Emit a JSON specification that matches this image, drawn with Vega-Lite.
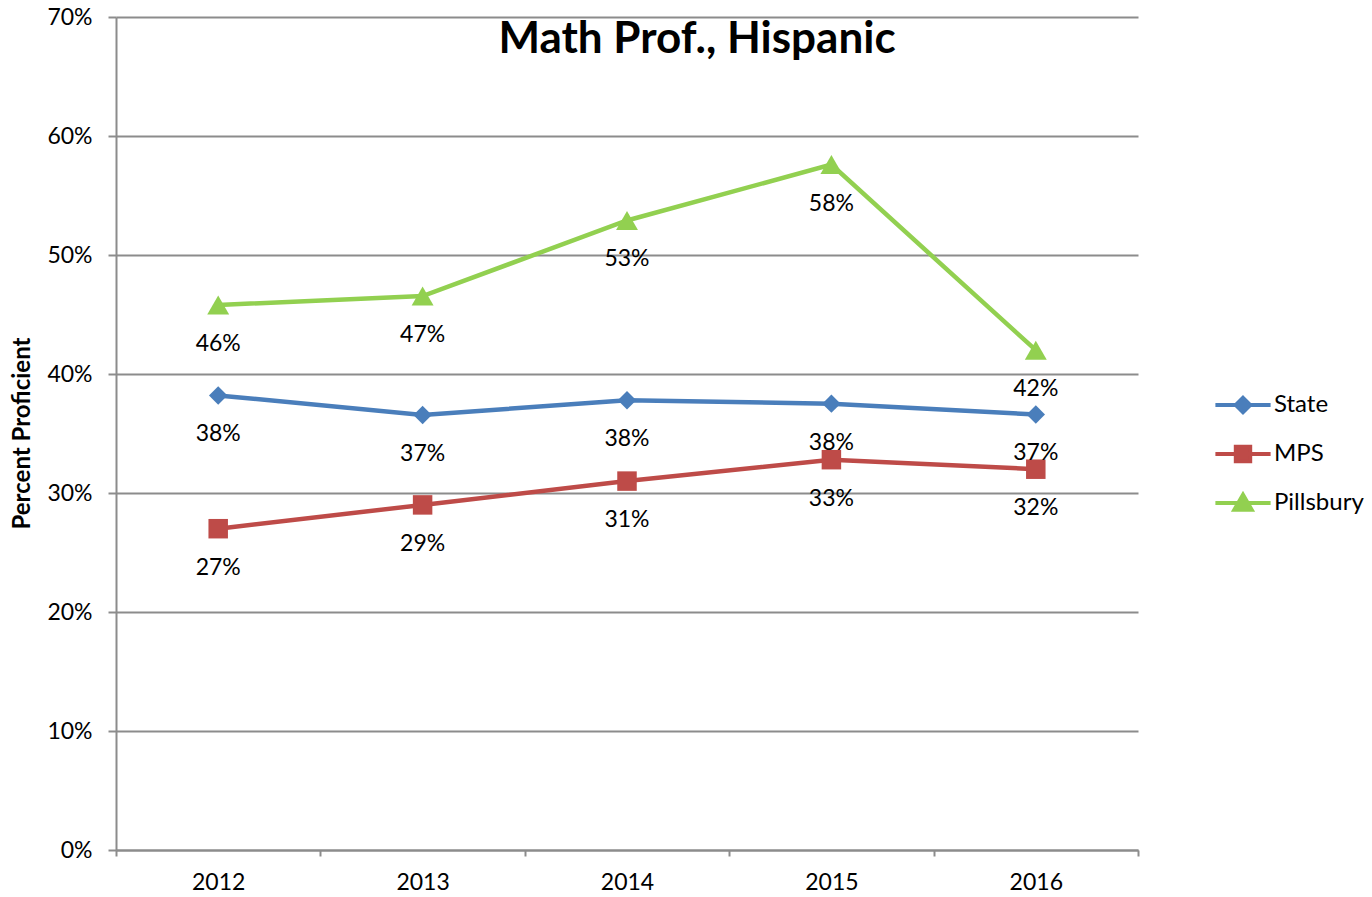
{
  "$schema": "https://vega.github.io/schema/vega-lite/v6.json",
  "autosize": {"type": "none"},
  "width": 1022,
  "height": 833,
  "padding": {"left": 116, "top": 17, "right": 234, "bottom": 47},
  "background": "white",
  "config": {
    "view": {"stroke": null},
    "font": "Lato",
    "axis": {"labelFont": "Lato", "titleFont": "Lato", "labelColor": "#000000", "titleColor": "#000000"}
  },
  "title": {
    "text": "Math Prof., Hispanic",
    "font": "Lato",
    "fontSize": 44,
    "fontWeight": "bold",
    "color": "#000000",
    "anchor": "middle",
    "frame": "group",
    "baseline": "alphabetic",
    "offset": -38,
    "dy": 53,
    "dx": 70
  },
  "data": {
    "values": [
      {"year": "2012", "series": "State", "value": 0.382},
      {"year": "2013", "series": "State", "value": 0.3655},
      {"year": "2014", "series": "State", "value": 0.378},
      {"year": "2015", "series": "State", "value": 0.3751},
      {"year": "2016", "series": "State", "value": 0.366},
      {"year": "2012", "series": "MPS", "value": 0.270},
      {"year": "2013", "series": "MPS", "value": 0.290},
      {"year": "2014", "series": "MPS", "value": 0.310},
      {"year": "2015", "series": "MPS", "value": 0.328},
      {"year": "2016", "series": "MPS", "value": 0.320},
      {"year": "2012", "series": "Pillsbury", "value": 0.458},
      {"year": "2013", "series": "Pillsbury", "value": 0.4655},
      {"year": "2014", "series": "Pillsbury", "value": 0.529},
      {"year": "2015", "series": "Pillsbury", "value": 0.576},
      {"year": "2016", "series": "Pillsbury", "value": 0.420}
    ]
  },
  "encoding": {
    "x": {
      "field": "year",
      "type": "ordinal",
      "scale": {"type": "band", "paddingInner": 0, "paddingOuter": 0},
      "axis": {
        "title": null,
        "labelAngle": 0,
        "labelFontSize": 23,
        "labelPadding": 15,
        "tickBand": "extent",
        "tickSize": 6,
        "tickColor": "#8c8c8c",
        "tickWidth": 2,
        "domainColor": "#8c8c8c",
        "domainWidth": 2,
        "grid": false
      }
    },
    "y": {
      "field": "value",
      "type": "quantitative",
      "scale": {"domain": [0, 0.7], "nice": false},
      "axis": {
        "title": "Percent Proficient",
        "titleFontSize": 24,
        "titleFontWeight": "bold",
        "titleX": -94,
        "titleY": 416,
        "titleAngle": -90,
        "titleAlign": "center",
        "titleBaseline": "middle",
        "values": [0, 0.1, 0.2, 0.3, 0.4, 0.5, 0.6, 0.7],
        "format": ".0%",
        "labelFontSize": 23,
        "labelPadding": 16,
        "tickSize": 8,
        "tickColor": "#8c8c8c",
        "tickWidth": 2,
        "domainColor": "#8c8c8c",
        "domainWidth": 2,
        "grid": true,
        "gridColor": "#8c8c8c",
        "gridWidth": 2
      }
    },
    "color": {
      "field": "series",
      "type": "nominal",
      "sort": ["State", "MPS", "Pillsbury"],
      "scale": {"domain": ["State", "MPS", "Pillsbury"], "range": ["#4A7EBB", "#BE4B48", "#92D050"]},
      "legend": {
        "title": null,
        "orient": "none",
        "legendX": 1101,
        "legendY": 362,
        "symbolSize": 2304,
        "symbolStrokeWidth": 4,
        "labelFontSize": 24,
        "labelFont": "Lato",
        "labelColor": "#000000",
        "labelOffset": 5,
        "rowPadding": 7,
        "padding": 0,
        "encode": {
          "symbols": {
            "update": {
              "shape": {"signal": "datum.value === 'State' ? 'M-1.15,0L1.15,0M0,-0.3L0.3,0L0,0.3L-0.3,0Z' : datum.value === 'MPS' ? 'M-1.15,0L1.15,0M-0.3,-0.3L0.3,-0.3L0.3,0.3L-0.3,0.3Z' : 'M-1.15,0L1.15,0M0,-0.34L0.36,0.28L-0.36,0.28Z'"},
              "fill": {"signal": "scale('color', datum.value)"},
              "stroke": {"signal": "scale('color', datum.value)"},
              "strokeWidth": {"value": 4},
              "opacity": {"value": 1}
            }
          }
        }
      }
    }
  },
  "layer": [
    {"mark": {"type": "line", "strokeWidth": 4.5}},
    {
      "mark": {"type": "point", "filled": true, "opacity": 1},
      "encoding": {
        "shape": {
          "condition": [
            {"test": "datum.series === 'State'", "value": "diamond"},
            {"test": "datum.series === 'MPS'", "value": "square"}
          ],
          "value": "triangle-up"
        },
        "size": {
          "condition": [
            {"test": "datum.series === 'Pillsbury'", "value": 480},
            {"test": "datum.series === 'MPS'", "value": 380}
          ],
          "value": 340
        }
      }
    },
    {
      "mark": {"type": "text", "dy": 39, "fontSize": 23, "font": "Lato", "color": "#000000"},
      "encoding": {
        "text": {"field": "value", "type": "quantitative", "format": ".0%"},
        "color": {"value": "#000000"}
      }
    }
  ]
}
